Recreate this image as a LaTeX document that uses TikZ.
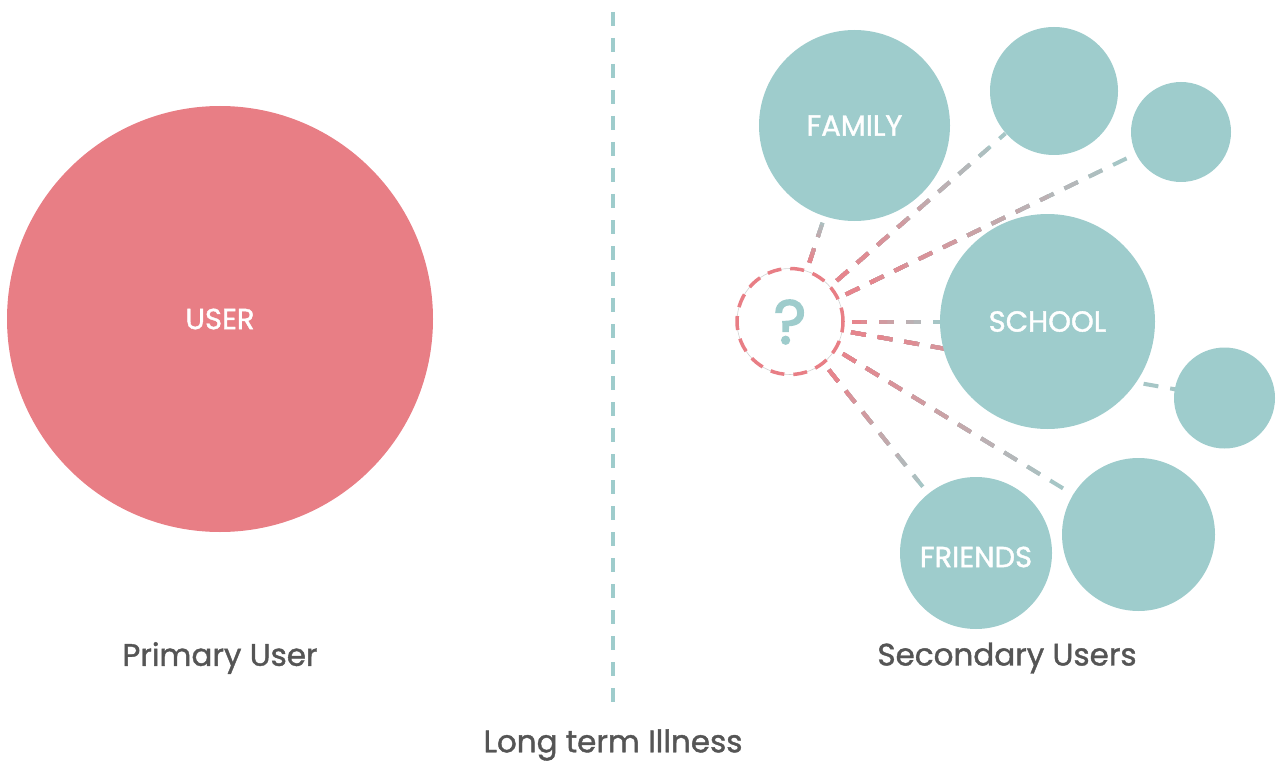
\documentclass[tikz,border=0pt]{standalone}
\usepackage{fontspec}
\setmainfont{Poppins}
\newfontfamily\medfont{Poppins}[RawFeature={embolden=1.3}]
\newfontfamily\qfont{Poppins}[RawFeature={embolden=2.5}]
\usetikzlibrary{calc}
\definecolor{userred}{HTML}{E87E85}
\definecolor{tealc}{HTML}{9ECCCC}
\definecolor{pinkline}{HTML}{E6858D}
\definecolor{tealgrey}{HTML}{A6C6C6}
\definecolor{txtgrey}{HTML}{555555}
\tikzset{
  bubble/.style={circle, fill=tealc, inner sep=0pt, text=white, font=\medfont\fontsize{29}{34}\selectfont},
  conn/.style={line width=4pt, dash pattern=on 15pt off 12pt},
  caption/.style={text=txtgrey, font=\medfont\fontsize{31}{36}\selectfont},
}
\newcommand\gradline[2]{%
  \foreach \k in {10,...,1} {%
    \pgfmathsetmacro\rr{62+(#2-62)*\k/10}%
    \pgfmathtruncatemacro\pc{100*(\k-1)/9}%
    \begin{scope}
      \clip (Q.center) circle (\rr pt);
      \draw[conn, color=tealgrey!\pc!pinkline] ($(Q.center)!62pt!(#1.center)$) -- (#1.center);
    \end{scope}
  }%
}
\begin{document}
\begin{tikzpicture}[x=1pt,y=-1pt]
\useasboundingbox (0,0) rectangle (1279,762);
% divider
\coordinate (dtop) at (613,12);
\coordinate (dbot) at (613,705);
\draw[tealc, line width=4pt, dash pattern=on 14pt off 12pt] (dtop) -- (dbot);
% question circle (position only first)
\node[circle, minimum size=106pt, inner sep=0pt] (Q) at (790,321.5) {};
% bubble positions
\coordinate (Fc) at (854.5,125.5);
\coordinate (C2c) at (1054,91);
\coordinate (C3c) at (1181,132);
\coordinate (Sc) at (1047.5,321.5);
\coordinate (Rc) at (1224.5,398);
\coordinate (BRc) at (1138.5,534.5);
\coordinate (FRc) at (976,553);
% connectors
\gradline{Fc}{111}
\gradline{C2c}{286}
\gradline{C3c}{384}
\gradline{Sc}{150}
\gradline{Rc}{391}
\gradline{BRc}{332}
\gradline{FRc}{221}
% user
\node[circle, fill=userred, minimum size=426pt, inner sep=0pt, text=white, font=\medfont\fontsize{29}{34}\selectfont] (user) at (220,319) {USER};
% bubbles
\node[bubble, minimum size=191pt] (family) at (Fc) {FAMILY};
\node[bubble, minimum size=128pt] (c2) at (C2c) {};
\node[bubble, minimum size=100pt] (c3) at (C3c) {};
\node[bubble, minimum size=215pt] (school) at (Sc) {SCHOOL};
\node[bubble, minimum size=101pt] (cr) at (Rc) {};
\node[bubble, minimum size=153pt] (cbr) at (BRc) {};
\node[bubble, minimum size=152pt] (friends) at (FRc) {};
\node[text=white, font=\medfont\fontsize{29}{34}\selectfont] (friendslbl) at (976,557) {FRIENDS};
% question mark circle
\draw[gray!35, line width=0.6pt] (Q.center) circle (53pt);
\draw[userred, line width=3.5pt, dash pattern=on 14pt off 9pt] (Q.center) circle (53pt);
\node[text=tealc, font=\qfont\fontsize{62}{68}\selectfont] (qm) at (790,322) {?};
% captions
\node[caption] (prim) at (220,658) {Primary User};
\node[caption] (sec) at (1007,658) {Secondary Users};
\node[caption] (lti) at (613,745) {Long term Illness};
\end{tikzpicture}
\end{document}
